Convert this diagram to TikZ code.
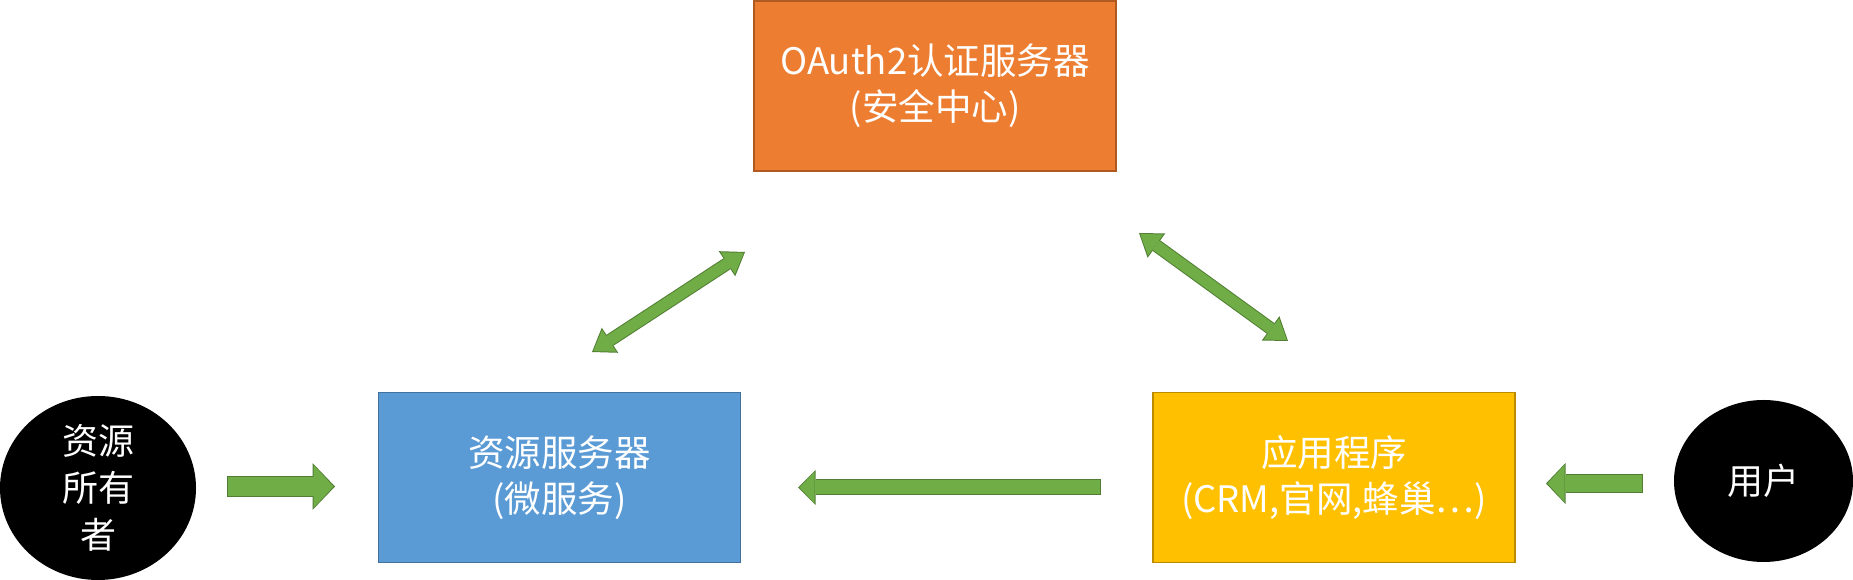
\documentclass[tikz,border=0pt]{standalone}
\usepackage{fontspec}
\setmainfont{Noto Sans CJK SC}
\usetikzlibrary{arrows.meta, positioning, shapes.geometric}

\definecolor{authfill}{HTML}{ED7D31}
\definecolor{authline}{HTML}{AE5A21}
\definecolor{resfill}{HTML}{5B9BD5}
\definecolor{resline}{HTML}{41719C}
\definecolor{appfill}{HTML}{FFC000}
\definecolor{appline}{HTML}{BC8C00}
\definecolor{arrowfill}{HTML}{70AD47}
\definecolor{arrowline}{HTML}{507E32}

\tikzset{
  box/.style={draw, line width=1.5pt, minimum width=362pt, minimum height=170pt,
    align=center, text=white, font=\fontsize{36.5}{46}\selectfont},
  person/.style={ellipse, fill=black, inner sep=0pt, align=center, text=white,
    font=\fontsize{36}{47}\selectfont},
  fatarrow/.style n args={3}{draw=arrowfill, line width=#1, shorten <=1pt, shorten >=1.5pt,
    -{Triangle[line width=0pt, length=#3, width=#2]},
    preaction={draw=arrowline, line width=#1+2pt, shorten <=0pt, shorten >=0pt,
      -{Triangle[line width=0pt, length=#3+2.5pt, width=#2+4pt]}}},
  fatboth/.style n args={3}{draw=arrowfill, line width=#1, shorten <=1.5pt, shorten >=1.5pt,
    {Triangle[line width=0pt, length=#3, width=#2]}-{Triangle[line width=0pt, length=#3, width=#2]},
    preaction={draw=arrowline, line width=#1+2pt, shorten <=0pt, shorten >=0pt,
      {Triangle[line width=0pt, length=#3+2.5pt, width=#2+4pt]}-{Triangle[line width=0pt, length=#3+2.5pt, width=#2+4pt]}}}
}

\begin{document}
\begin{tikzpicture}[x=1pt, y=1pt]
\useasboundingbox (0,0) rectangle (1853,580);
\node[box, fill=resfill, draw=resline] (res) at (559.5,102.5) {资源服务器\\(微服务)};
\node[box, fill=appfill, draw=appline] (app) [right=411pt of res] {应用程序\\(CRM,官网,蜂巢⋯)};
\node[box, fill=authfill, draw=authline] (auth) at (935,494) {OAuth2认证服务器\\(安全中心)};
\node[person, minimum width=196pt, minimum height=184pt] (owner) at (98,92) {资源\\所有\\者};
\node[person, minimum width=179pt, minimum height=162pt] (user) at (1763.5,99) {用户};

% arrow ends
\coordinate (ownerout) at (227,93.5);
\coordinate (resin) at (335,93.5);
\coordinate (appout) at (1101,92.5);
\coordinate (appres) at (798,92.5);
\coordinate (userout) at (1643,96.5);
\coordinate (appin) at (1546,96.5);
\coordinate (resup) at (592,228);
\coordinate (authleft) at (745,328);
\coordinate (authright) at (1139,347);
\coordinate (appup) at (1288,239);

\draw[fatarrow={19pt}{43pt}{20pt}] (ownerout) -- (resin);
\draw[fatarrow={14pt}{31pt}{15pt}] (appout) -- (appres);
\draw[fatarrow={17pt}{37pt}{17pt}] (userout) -- (appin);
\draw[fatboth={11pt}{26pt}{19pt}] (resup) -- (authleft);
\draw[fatboth={11pt}{26pt}{19pt}] (authright) -- (appup);
\end{tikzpicture}
\end{document}
